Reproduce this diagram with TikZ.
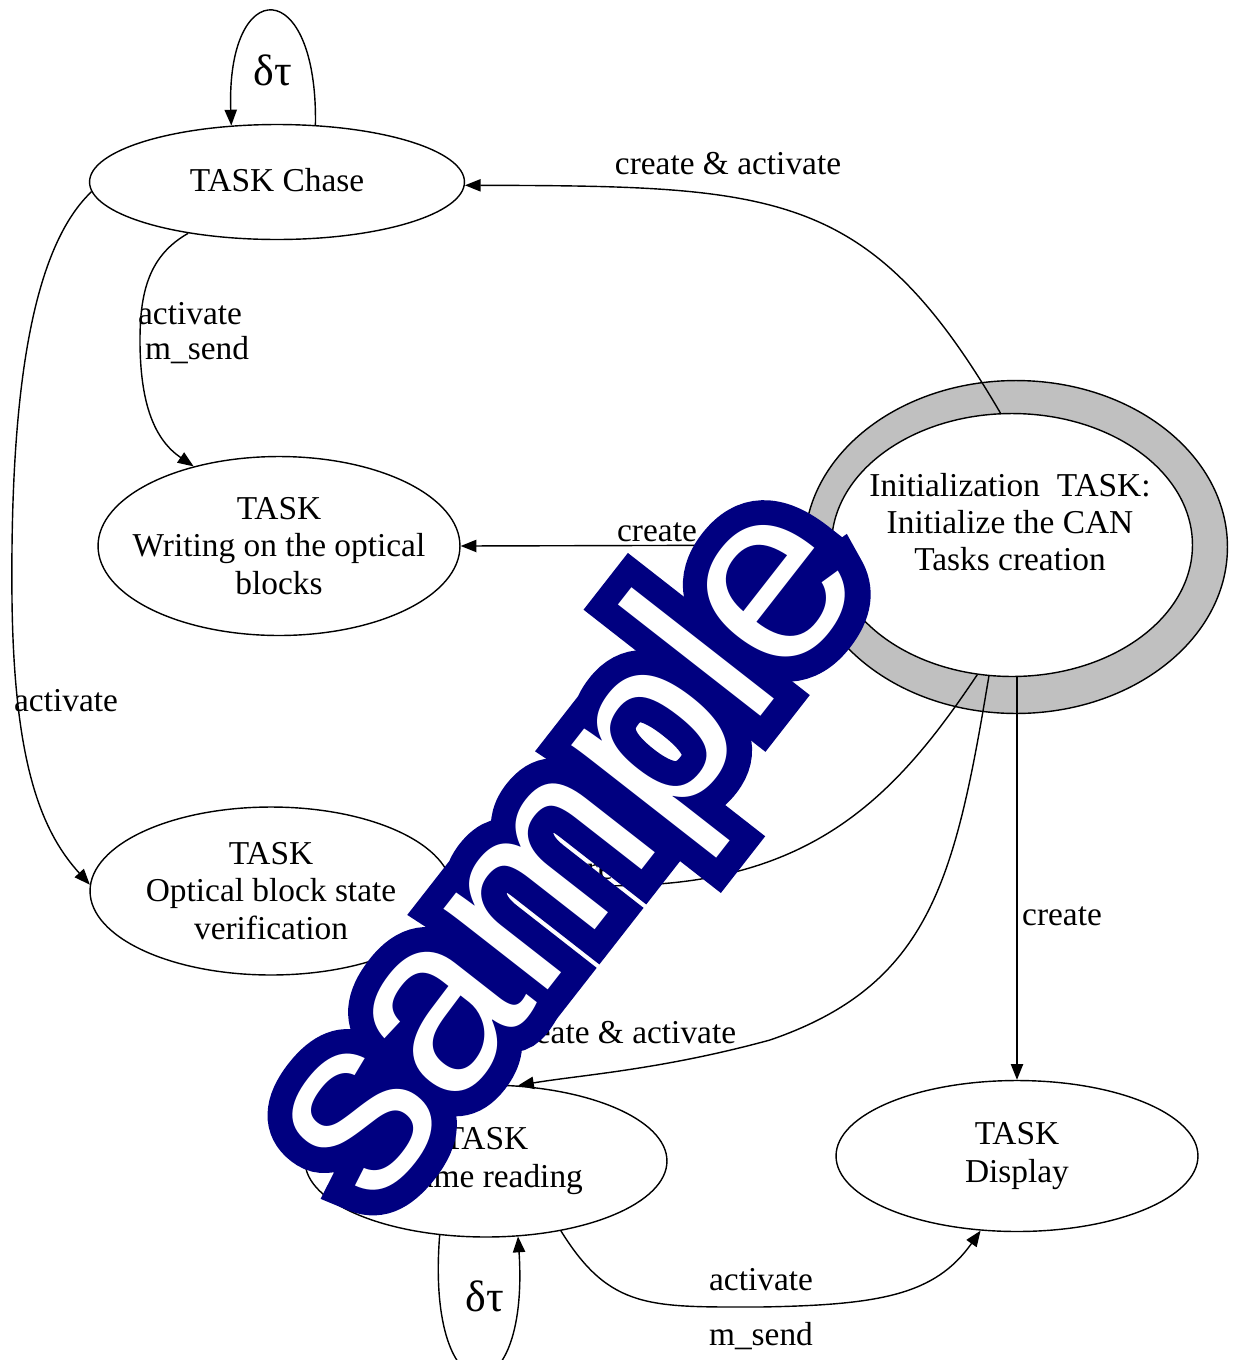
\documentclass[tikz,border=0pt]{standalone}
\usepackage{fontspec}
\setmainfont{Liberation Serif}
\font\wmbold="Liberation Sans:embolden=20" at 142pt
\font\wmplain="Liberation Sans" at 142pt
\usetikzlibrary{shapes.geometric,arrows.meta}
\definecolor{ringgray}{RGB}{192,192,192}
\definecolor{wmnavy}{RGB}{0,0,128}
\begin{document}
\begin{tikzpicture}[x=0.02cm,y=-0.02cm,
  task/.style={draw,ellipse,line width=0.8pt,inner xsep=-3cm,inner ysep=-1.2cm,align=center,font=\fontsize{19}{21.5}\selectfont},
  conn/.style={line width=0.8pt,-{Triangle[length=9pt,width=7pt]}},
  lbl/.style={font=\fontsize{19}{21}\selectfont,inner sep=1pt},
  dt/.style={font=\fontsize{25}{28}\selectfont,inner sep=0pt},
  wm/.style={rotate=52,inner sep=0pt}]
\useasboundingbox[fill=white] (0,0) rectangle (1232,1360);

% nodes
\node[task,minimum width=7.5cm,minimum height=2.3cm] (chase) at (277,182) {\raisebox{0.1cm}{TASK Chase}};
\node[task,minimum width=7.24cm,minimum height=3.58cm] (write) at (279,546) {TASK\\Writing on the optical\\blocks};
\node[task,minimum width=7.24cm,minimum height=3.36cm] (optic) at (271,891) {TASK\\Optical block state\\verification};
\node[task,minimum width=7.24cm,minimum height=3.04cm] (frame) at (486,1161) {TASK\\Frame reading};
\node[task,minimum width=7.24cm,minimum height=3.02cm] (disp) at (1017,1156) {TASK\\Display};
\node[draw,ellipse,fill=ringgray,line width=0.8pt,minimum width=8.46cm,minimum height=6.66cm,inner sep=0pt] (ring) at (1016,547) {};
\node[draw,ellipse,fill=white,line width=0.8pt,minimum width=7.22cm,minimum height=5.26cm,inner sep=0pt] (init) at (1012,545) {};
\node[lbl,align=center] (inittext) at (1010,522) {Initialization\ \ TASK:\\Initialize the CAN\\Tasks creation};

% self loop on chase
\draw[conn] (chase.56) .. controls (318,-26) and (226,-26) .. (chase.129);
\node[dt] (dt1) at (273,70) {δτ};

% init -> chase
\draw[conn] (init.95) .. controls (870,190) and (780,186) .. (chase.-1);
\node[lbl] (l1) at (728,164) {create \& activate};

% chase -> write
\draw[conn] (chase.210) .. controls (150,255) and (140,290) .. (140,340) .. controls (140,405) and (155,440) .. (write.137);
\node[lbl,anchor=west] (l2a) at (136,314) {activate};
\node[lbl,anchor=west] (l2b) at (143,350) {m\_send};

% chase -> optic
\draw[conn] (chase.183) .. controls (30,250) and (10,400) .. (12,600) .. controls (14,760) and (40,830) .. (optic.178);
\node[lbl,anchor=west] (l3) at (12,701) {activate};

% init -> write
\draw[conn] (init.180) -- (write.east);
\node[lbl] (l4) at (657,532) {create};

% init -> optic
\draw[conn] (init.255) .. controls (900,790) and (820,878) .. (640,885) -- (optic.east);
\node[lbl] (l5) at (612,870) {create};

% init -> frame
\draw[conn] (init.260) .. controls (955,880) and (930,985) .. (770,1040) .. controls (660,1070) and (580,1075) .. (frame.67);
\node[lbl] (l6) at (623,1033) {create \& activate};

% init -> display
\draw[conn] (disp.north |- init.south) -- (disp.north);
\node[lbl] (l7) at (1062,916) {create};

% frame -> display
\draw[conn] (frame.-43) .. controls (610,1310) and (650,1307) .. (760,1307) .. controls (880,1305) and (935,1295) .. (disp.244);
\node[lbl] (l8a) at (761,1280) {activate};
\node[lbl] (l8b) at (761,1336) {m\_send};

% self loop on frame
\draw[conn] (frame.238) .. controls (425,1420) and (530,1420) .. (frame.-67);
\node[dt] (dt2) at (485,1296) {δτ};

% watermark: white letters with a thick navy outline
\node[wm,font=\wmbold,text=wmnavy] (wmo) at (572,854) {sample};
\node[wm,font=\wmplain,text=white] (wm) at (572,854) {sample};
\end{tikzpicture}
\end{document}
